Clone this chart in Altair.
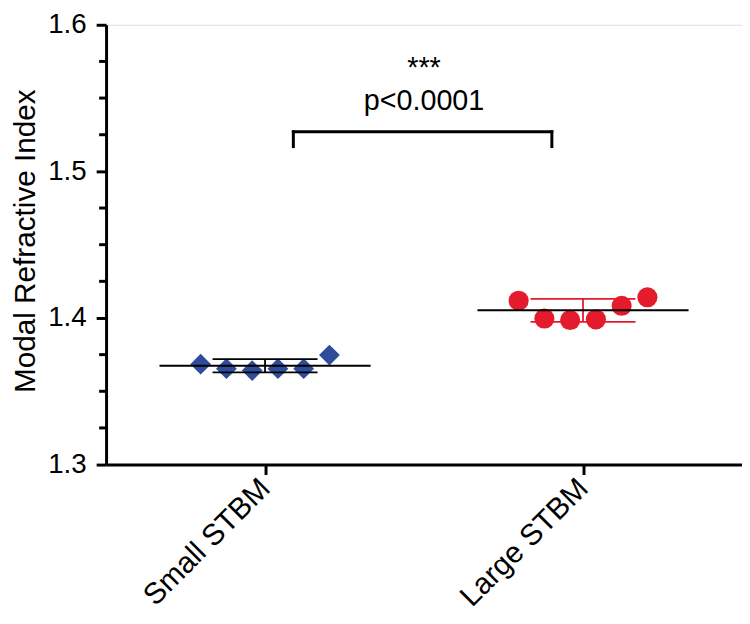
import altair as alt
import pandas as pd

# ---- data ----
categories = ["Small STBM", "Large STBM"]
small_values = [1.3685, 1.3654, 1.3641, 1.3654, 1.3654, 1.3747]
large_values = [1.4118, 1.3996, 1.3986, 1.3990, 1.4083, 1.4141]
swarm_slots = [-2.5, -1.5, -0.5, 0.5, 1.5, 2.5]
group_means = [1.3674, 1.4052]
group_sds = [0.0045, 0.0078]
y_ticks = [1.3, 1.4, 1.5, 1.6]
y_minor = [1.325, 1.35, 1.375, 1.425, 1.45, 1.475, 1.525, 1.55, 1.575]
sig_stars = "***"
p_text = "p<0.0001"

FONT = "Liberation Sans"
BLUE = "#2E4C9B"
RED = "#E31B2D"
SLOT_W = 0.081
MEAN_HALF = 0.332
SD_HALF = 0.165

rows = []
for i, (cat, vals) in enumerate(zip(categories, [small_values, large_values])):
    for s, v in zip(swarm_slots, vals):
        rows.append({"group": cat, "x": i + 0.5 + s * SLOT_W, "y": v})
pts = pd.DataFrame(rows)

stat_rows = []
for i, cat in enumerate(categories):
    c = i + 0.5
    m, sd = group_means[i], group_sds[i]
    stat_rows.append({"group": cat, "kind": "mean", "x": c - MEAN_HALF, "x2": c + MEAN_HALF, "y": m, "y2": m})
    stat_rows.append({"group": cat, "kind": "sd", "x": c - SD_HALF, "x2": c + SD_HALF, "y": m + sd, "y2": m + sd})
    stat_rows.append({"group": cat, "kind": "sd", "x": c - SD_HALF, "x2": c + SD_HALF, "y": m - sd, "y2": m - sd})
    stat_rows.append({"group": cat, "kind": "sd", "x": c, "x2": c, "y": m - sd, "y2": m + sd})
stats = pd.DataFrame(stat_rows)

bracket = pd.DataFrame([
    {"x": 0.589, "x2": 1.402, "y": 1.527, "y2": 1.527},
    {"x": 0.589, "x2": 0.589, "y": 1.5169, "y2": 1.527},
    {"x": 1.402, "x2": 1.402, "y": 1.5169, "y2": 1.527},
])
texts = pd.DataFrame([
    {"x": 1.0, "y": 1.5642, "t": sig_stars},
    {"x": 1.0, "y": 1.5417, "t": p_text},
])
minor = pd.DataFrame({"y": y_minor})

label_expr = "datum.value < 1 ? '%s' : '%s'" % (categories[0], categories[1])

xscale = alt.Scale(domain=[0, 2], nice=False, zero=False)
yscale = alt.Scale(domain=[1.3, 1.6], nice=False, zero=False)

xaxis = alt.Axis(values=[0.5, 1.5], labelExpr=label_expr, labelAngle=-45,
                 labelAlign="right", labelBaseline="middle", labelPadding=9,
                 labelFontSize=30, labelFont=FONT, labelColor="black",
                 tickSize=10, tickWidth=3, tickColor="black",
                 domainWidth=3, domainColor="black", grid=False, title=None)
yaxis = alt.Axis(values=y_ticks, format=".1f", labelFontSize=28, labelFont=FONT,
                 labelColor="black", labelPadding=10, tickSize=10, tickWidth=3,
                 tickColor="black", domainWidth=3, domainColor="black", grid=False,
                 title="Modal Refractive Index", titleFont=FONT, titleFontSize=30,
                 titleFontWeight="normal", titleColor="black", titleAngle=-90,
                 titleX=-81, titleY=218, titleAlign="center", titleBaseline="middle")

base_pts = alt.Chart(pts)
small_pts = base_pts.transform_filter(alt.datum.group == categories[0]).mark_point(
    shape="diamond", filled=True, size=441, color=BLUE, opacity=1
).encode(x=alt.X("x:Q", scale=xscale, axis=xaxis), y=alt.Y("y:Q", scale=yscale, axis=yaxis))
large_pts = base_pts.transform_filter(alt.datum.group == categories[1]).mark_point(
    shape="circle", filled=True, size=412, color=RED, opacity=1
).encode(x="x:Q", y="y:Q")

sd_small = alt.Chart(stats).transform_filter(
    (alt.datum.group == categories[0]) & (alt.datum.kind == "sd")
).mark_rule(color="black", strokeWidth=1.8).encode(x="x:Q", x2="x2", y="y:Q", y2="y2")
sd_large = alt.Chart(stats).transform_filter(
    (alt.datum.group == categories[1]) & (alt.datum.kind == "sd")
).mark_rule(color=RED, strokeWidth=1.8).encode(x="x:Q", x2="x2", y="y:Q", y2="y2")
means = alt.Chart(stats).transform_filter(alt.datum.kind == "mean").mark_rule(
    color="black", strokeWidth=2
).encode(x="x:Q", x2="x2", y="y:Q", y2="y2")

br = alt.Chart(bracket).mark_rule(color="black", strokeWidth=3, strokeCap="square").encode(
    x="x:Q", x2="x2", y="y:Q", y2="y2")
tx = alt.Chart(texts).mark_text(font=FONT, fontSize=29, baseline="alphabetic",
                                align="center", color="black").encode(
    x="x:Q", y="y:Q", text="t:N")
mt = alt.Chart(minor).mark_rule(color="black", strokeWidth=3).encode(
    y="y:Q", x=alt.value(-7), x2=alt.value(0))

chart = alt.layer(small_pts, large_pts, sd_small, sd_large, means, br, tx, mt).properties(
    width=642, height=444,
    autosize=alt.AutoSizeParams(type="none"),
    padding={"left": 99, "top": 14, "right": 0, "bottom": 158},
).configure_view(stroke=None).configure(font=FONT)

chart.save("out.html", embed_options={"renderer": "svg", "actions": False})
